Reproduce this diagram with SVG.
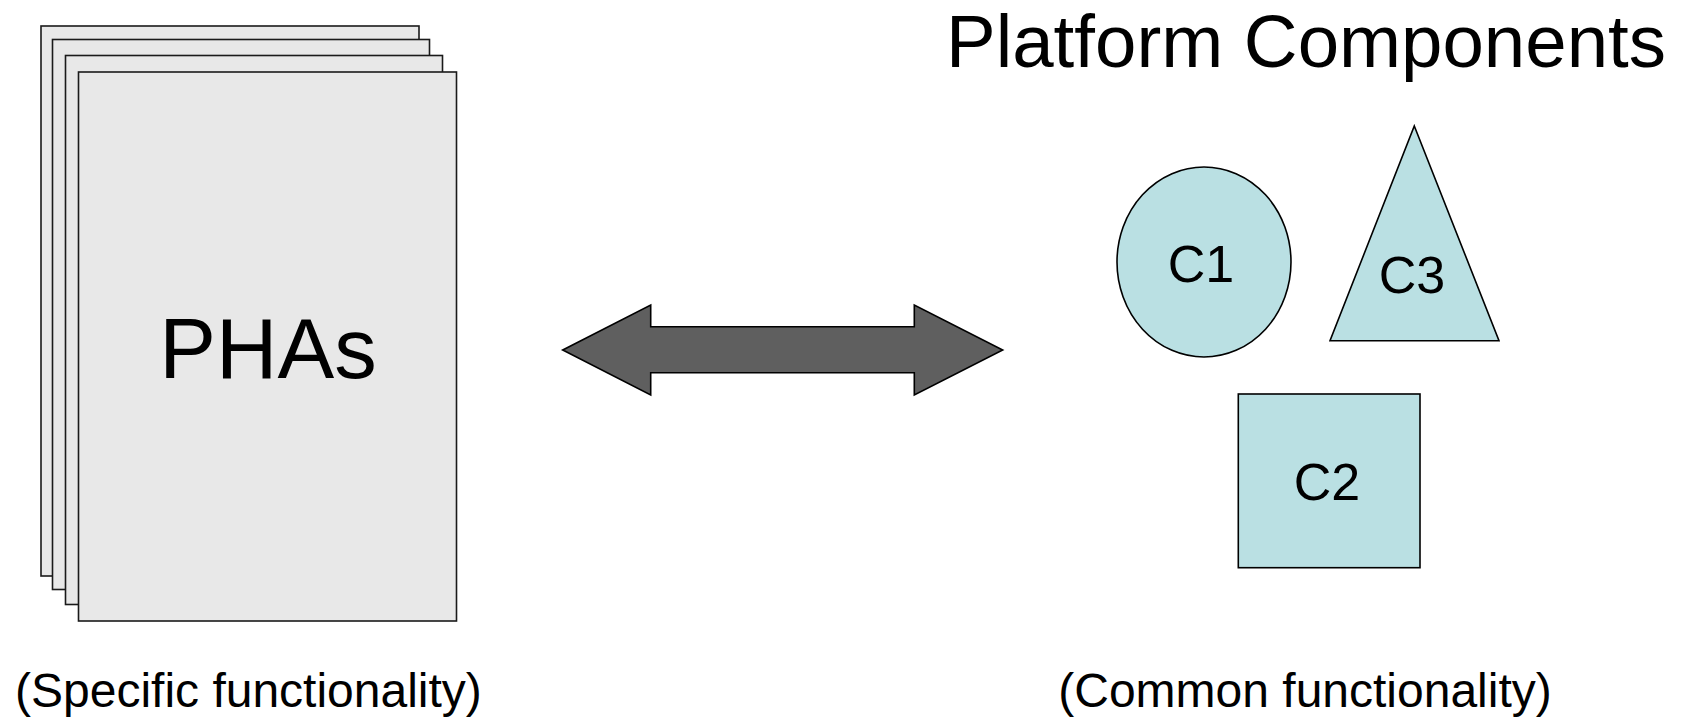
<svg xmlns="http://www.w3.org/2000/svg" width="1684" height="717" viewBox="0 0 1684 717">
<defs>
<style>
.page{fill:#e8e8e8;stroke:#1a1a1a;stroke-width:1.6}
.comp{fill:#bae0e3;stroke:#000;stroke-width:1.6}
.t{font-family:"Liberation Sans",Arial,sans-serif;fill:#000}
.arrow{fill:#5f5f5f;stroke:#000;stroke-width:1.6;stroke-linejoin:miter}
</style>
</defs>
<rect width="1684" height="717" fill="#fff"/>
<g id="title">
<text class="t" x="946" y="67" font-size="74.6" textLength="720" lengthAdjust="spacingAndGlyphs">Platform Components</text>
</g>
<g id="phas">
<rect class="page" x="41" y="26" width="378" height="550"/>
<rect class="page" x="52.5" y="39.5" width="377" height="550"/>
<rect class="page" x="65.5" y="55.5" width="377" height="549"/>
<rect class="page" x="78.5" y="72" width="378" height="549"/>
<text class="t" x="268" y="378" font-size="85" text-anchor="middle">PHAs</text>
</g>
<g id="c1">
<ellipse class="comp" cx="1204" cy="262" rx="87" ry="95"/>
<text class="t" x="1201" y="282" font-size="52" text-anchor="middle">C1</text>
</g>
<g id="c3">
<polygon class="comp" points="1414.3,126 1499,340.7 1330,340.7"/>
<text class="t" x="1412" y="293" font-size="52" text-anchor="middle">C3</text>
</g>
<g id="c2">
<rect class="comp" x="1238.3" y="394" width="181.7" height="173.7"/>
<text class="t" x="1327" y="500" font-size="52" text-anchor="middle">C2</text>
</g>
<g id="labels">
<text class="t" x="15" y="707" font-size="48">(Specific functionality)</text>
<text class="t" x="1305" y="707" font-size="48" text-anchor="middle">(Common functionality)</text>
</g>
<g id="connectors">
<polygon class="arrow" points="562.7,350 650.7,305 650.7,326.7 914.3,326.7 914.3,305 1002.7,350 914.3,395 914.3,372.7 650.7,372.7 650.7,395"/>
</g>
</svg>
